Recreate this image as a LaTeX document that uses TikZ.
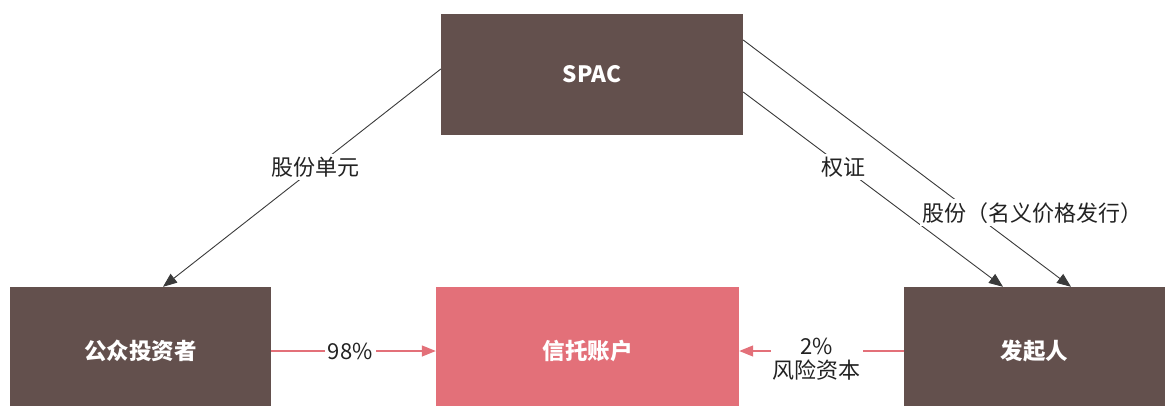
\documentclass[tikz,border=0pt]{standalone}
\usepackage{fontspec}
\setmainfont{Noto Sans CJK SC}
\usetikzlibrary{arrows.meta,positioning}
\definecolor{boxbrown}{HTML}{63504D}
\definecolor{trustpink}{HTML}{E37079}
\definecolor{linegray}{HTML}{3A3A3A}
\definecolor{txt}{HTML}{222222}
\tikzset{
  entity/.style={fill=boxbrown, draw=none, text=white, font=\fontsize{22.5}{26}\selectfont\bfseries, inner sep=0pt},
  trust/.style={fill=trustpink, draw=none, text=white, font=\fontsize{22.5}{26}\selectfont\bfseries, inner sep=0pt},
  flow/.style={draw=linegray, line width=0.9pt, -{Triangle[length=14pt,width=11pt]}},
  money/.style={draw=trustpink, line width=1.3pt, -{Triangle[length=14pt,width=11pt]}},
  lbl/.style={fill=white, text=txt, font=\fontsize{22}{24}\selectfont, inner sep=3pt, align=center}
}
\begin{document}
\begin{tikzpicture}[x=1pt,y=-1pt]
\useasboundingbox (0,0) rectangle (1165,405);
\node[entity, minimum width=302pt, minimum height=121pt] (spac) at (592,74) {SPAC};
\node[entity, minimum width=261pt, minimum height=128pt] (pub) at (140.5,351) {公众投资者};
\node[trust, minimum width=303pt, minimum height=128pt] (trustacc) at (587.5,351) {信托账户};
\node[entity, minimum width=261pt, minimum height=128pt] (spon) at (1034.5,351) {发起人};

\coordinate (spacL) at ([yshift=5pt]spac.west);
\coordinate (spacR1) at ([yshift=34pt]spac.east);
\coordinate (spacR2) at ([yshift=-18pt]spac.east);
\coordinate (pubT) at ([xshift=22.5pt]pub.north);
\coordinate (sponT1) at ([xshift=36.5pt]spon.north);
\coordinate (sponT2) at ([xshift=-31.5pt]spon.north);

\draw[flow] (spacL) -- node[lbl, pos=0.45] (l1) {股份单元} (pubT);
\draw[flow] (spacR2) -- node[lbl, pos=0.385] (l2) {权证} (sponT2);
\draw[flow] (spacR1) -- node[lbl, pos=0.70, xshift=60pt] (l3) {股份（名义价格发行）} (sponT1);

\draw[money] (pub.east) -- node[lbl, pos=0.48] (l4) {98\%} (trustacc.west);
\draw[money] (spon.west) -- node[lbl, pos=0.53, yshift=-8pt, inner sep=2pt] (l5) {2\%\\风险资本} (trustacc.east);
\end{tikzpicture}
\end{document}
